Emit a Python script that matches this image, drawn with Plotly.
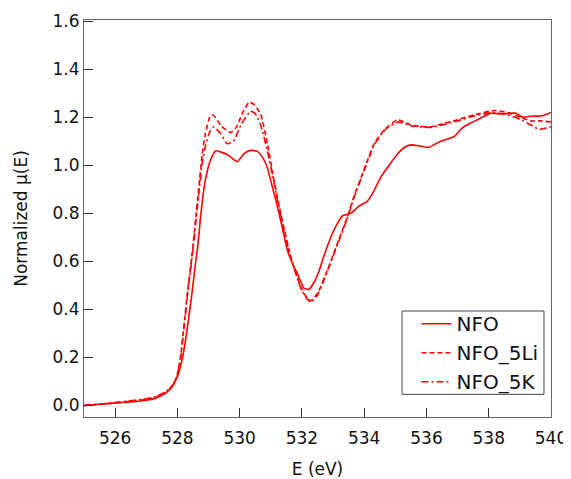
import plotly.graph_objects as go

# NFO
e_nfo = [525.0, 525.5, 526.0, 526.5, 527.0, 527.3, 527.6, 527.8, 528.0, 528.15, 528.26, 528.37,
         528.48, 528.58, 528.66, 528.74, 528.82, 528.9, 529.06, 529.22, 529.6, 529.92, 530.15,
         530.35, 530.57, 530.75, 530.89, 531.05, 531.21, 531.37, 531.53, 531.7, 531.85, 532.06,
         532.22, 532.39, 532.55, 532.7, 532.98, 533.15, 533.3, 533.57, 533.83, 534.1, 534.3,
         534.53, 534.8, 535.07, 535.3, 535.5, 535.8, 536.08, 536.3, 536.57, 536.89, 537.16,
         537.4, 537.64, 538.07, 538.39, 538.87, 539.09, 539.4, 539.68, 540.0]
mu_nfo = [0.0, 0.005, 0.01, 0.015, 0.022, 0.03, 0.05, 0.072, 0.12, 0.19, 0.27, 0.37,
          0.48, 0.59, 0.67, 0.78, 0.87, 0.94, 1.02, 1.06, 1.045, 1.015, 1.05,
          1.062, 1.058, 1.03, 0.99, 0.91, 0.83, 0.74, 0.647, 0.59, 0.55, 0.489,
          0.483, 0.513, 0.56, 0.62, 0.717, 0.76, 0.79, 0.80, 0.83, 0.85, 0.89,
          0.95, 1.0, 1.047, 1.075, 1.085, 1.08, 1.075, 1.09, 1.105, 1.12, 1.157,
          1.175, 1.19, 1.217, 1.214, 1.217, 1.20, 1.205, 1.205, 1.22]

# NFO_5Li
e_li = [525.0, 525.5, 526.0, 526.5, 527.0, 527.3, 527.6, 527.88, 528.0, 528.1, 528.21, 528.32,
        528.48, 528.58, 528.69, 528.8, 528.9, 529.04, 529.12, 529.22, 529.4, 529.71, 529.9,
        530.1, 530.3, 530.45, 530.67, 530.89, 531.1, 531.32, 531.64, 531.96, 532.1, 532.28,
        532.5, 532.82, 533.14, 533.46, 533.67, 533.99, 534.32, 534.69, 535.07, 535.28, 535.5,
        535.8, 536.14, 536.57, 537.0, 537.53, 538.17, 538.6, 539.03, 539.35, 539.68, 540.0]
mu_li = [0.0, 0.005, 0.01, 0.018, 0.025, 0.035, 0.05, 0.09, 0.13, 0.2, 0.33, 0.467,
         0.64, 0.77, 0.91, 1.05, 1.133, 1.2, 1.21, 1.20, 1.165, 1.136, 1.16,
         1.22, 1.262, 1.255, 1.215, 1.09, 0.94, 0.80, 0.62, 0.494, 0.46, 0.436,
         0.467, 0.564, 0.675, 0.786, 0.87, 0.98, 1.09, 1.154, 1.19, 1.18, 1.168,
         1.162, 1.16, 1.175, 1.19, 1.21, 1.228, 1.22, 1.20, 1.185, 1.185, 1.18]

# NFO_5K
e_k = [525.0, 525.5, 526.0, 526.5, 527.0, 527.3, 527.6, 527.88, 528.0, 528.1, 528.21, 528.32,
       528.48, 528.58, 528.69, 528.8, 528.9, 529.04, 529.17, 529.4, 529.6, 529.8, 530.05,
       530.35, 530.5, 530.67, 530.89, 531.1, 531.32, 531.64, 531.96, 532.1, 532.28, 532.5,
       532.82, 533.14, 533.46, 533.67, 533.99, 534.32, 534.69, 535.07, 535.28, 535.5, 535.8,
       536.14, 536.57, 537.0, 537.53, 538.17, 538.6, 539.03, 539.35, 539.62, 540.0]
mu_k = [0.0, 0.006, 0.012, 0.02, 0.028, 0.037, 0.055, 0.09, 0.13, 0.195, 0.32, 0.455,
        0.625, 0.75, 0.885, 1.01, 1.08, 1.14, 1.16, 1.13, 1.09, 1.10, 1.17,
        1.225, 1.215, 1.17, 1.06, 0.93, 0.79, 0.615, 0.49, 0.455, 0.43, 0.46,
        0.56, 0.67, 0.78, 0.865, 0.975, 1.085, 1.15, 1.18, 1.175, 1.165, 1.16,
        1.158, 1.17, 1.185, 1.205, 1.22, 1.21, 1.19, 1.168, 1.15, 1.16]

x_ticks = [526, 528, 530, 532, 534, 536, 538, 540]
y_ticks = [0.0, 0.2, 0.4, 0.6, 0.8, 1.0, 1.2, 1.4, 1.6]
y_labels = ["0.0", "0.2", "0.4", "0.6", "0.8", "1.0", "1.2", "1.4", "1.6"]

RED = "#ff0000"
FONT = "'DejaVu Sans', sans-serif"

fig = go.Figure()
fig.add_trace(go.Scatter(x=e_nfo, y=mu_nfo, mode="lines", name="NFO",
                         line=dict(color=RED, width=1.6, shape="spline", smoothing=0.5)))
fig.add_trace(go.Scatter(x=e_li, y=mu_li, mode="lines", name="NFO_5Li",
                         line=dict(color=RED, width=1.6, dash="5px,3px", shape="spline", smoothing=0.5)))
fig.add_trace(go.Scatter(x=e_k, y=mu_k, mode="lines", name="NFO_5K",
                         line=dict(color=RED, width=1.6, dash="7px,3px,2px,3px", shape="spline", smoothing=0.5)))

axis_common = dict(showline=True, linecolor="#666666", linewidth=1.2, mirror=True,
                   ticks="inside", ticklen=9, tickcolor="#333333", tickwidth=1,
                   showgrid=False, zeroline=False, automargin=False,
                   tickfont=dict(family=FONT, size=17, color="#111111"),
                   title_font=dict(family=FONT, size=17, color="#111111"))

fig.update_xaxes(range=[525, 540], tickvals=x_ticks, title_text="E (eV)",
                 ticklabelstandoff=5, title_standoff=16, **axis_common)
fig.update_yaxes(range=[-0.048, 1.605], tickvals=y_ticks, ticktext=y_labels,
                 title_text="Normalized μ(E)", ticklabelstandoff=0, title_standoff=20, **axis_common)

# legend frame
fig.add_shape(type="rect", xref="paper", yref="paper", x0=0.681, x1=0.985, y0=0.057, y1=0.267,
              line=dict(color="#444444", width=1), fillcolor="white", layer="below")

fig.update_layout(
    width=571, height=479,
    margin=dict(l=76, r=28, t=12, b=70),
    plot_bgcolor="white", paper_bgcolor="white",
    font=dict(family=FONT, size=17, color="#111111"),
    showlegend=True,
    legend=dict(x=0.712, y=0.162, xanchor="left", yanchor="middle",
                borderwidth=0, bgcolor="rgba(0,0,0,0)",
                font=dict(family=FONT, size=20, color="#111111"),
                tracegroupgap=0, itemwidth=30),
)

fig.write_html("out.html")
